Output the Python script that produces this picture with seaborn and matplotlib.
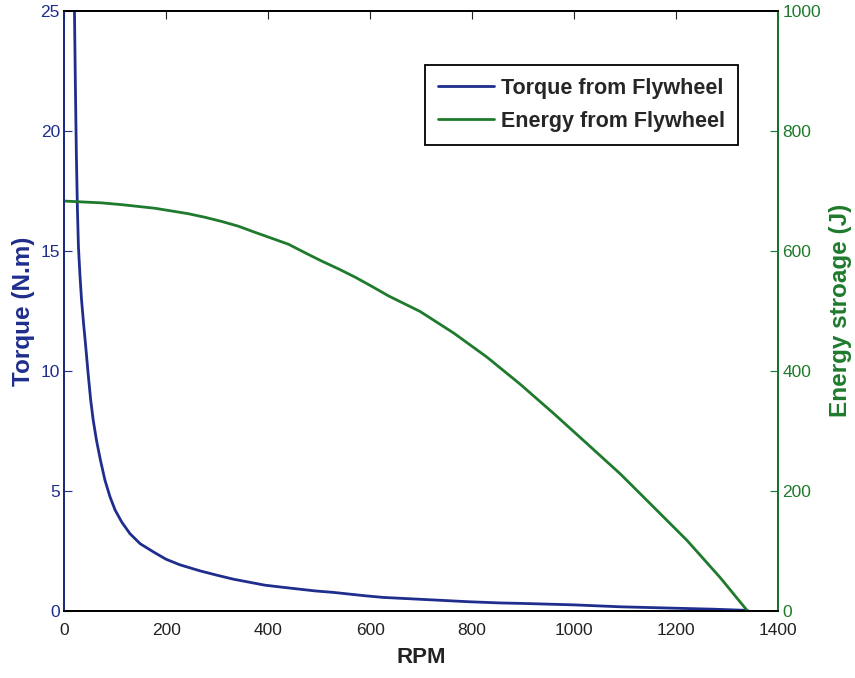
import pandas as pd
import seaborn as sns
import matplotlib.pyplot as plt
from matplotlib.lines import Line2D

# torque curve
rpm_torque = [20, 22, 24, 26, 28, 31, 34, 38, 42, 47, 52, 57, 63.5, 71, 80,
              90, 100, 113, 129, 149, 168, 178, 200, 227, 266, 299, 332, 394,
              430, 493, 528, 590, 626, 692, 794, 856, 900, 1000, 1091, 1200,
              1274, 1340]
torque = [25.5, 22.0, 19.0, 16.8, 15.2, 14.0, 13.0, 12.0, 11.1, 9.9, 8.8,
          7.95, 7.1, 6.3, 5.45, 4.75, 4.2, 3.7, 3.22, 2.8, 2.55, 2.42, 2.15,
          1.92, 1.67, 1.49, 1.32, 1.07, 0.98, 0.83, 0.77, 0.63, 0.56, 0.49,
          0.38, 0.33, 0.31, 0.25, 0.17, 0.11, 0.07, 0.02]

# energy curve
rpm_energy = [0, 73, 113, 178, 243, 276, 309, 342, 374, 407, 440, 472, 505,
              538, 571, 603, 636, 698, 764, 829, 894, 960, 1025, 1091, 1156,
              1222, 1287, 1340]
energy = [683, 680, 677, 671, 662, 656, 649, 641, 631, 621, 611, 597, 583,
          570, 556, 541, 525, 499, 463, 423, 378, 329, 279, 228, 173, 117,
          55, 0]

blue = '#1f2d8c'
green = '#1e7a2c'

sns.set_style("white")
plt.rcParams['font.family'] = ['Liberation Sans', 'DejaVu Sans']

df_t = pd.DataFrame({'RPM': rpm_torque, 'Torque': torque})
df_e = pd.DataFrame({'RPM': rpm_energy, 'Energy': energy})

fig = plt.figure(figsize=(8.55, 6.78), dpi=100)
ax = fig.add_axes([0.075, 0.099, 0.835, 0.885])
ax2 = ax.twinx()

sns.lineplot(data=df_t, x='RPM', y='Torque', ax=ax, color=blue, lw=2)
sns.lineplot(data=df_e, x='RPM', y='Energy', ax=ax2, color=green, lw=2)

ax.set_xlim(0, 1400)
ax.set_ylim(0, 25)
ax2.set_ylim(0, 1000)
ax.set_xticks(range(0, 1401, 200))
ax.set_yticks(range(0, 26, 5))
ax2.set_yticks(range(0, 1001, 200))

tick_font = {'size': 12.5}
ax.set_xticklabels([str(v) for v in range(0, 1401, 200)], fontdict=tick_font)
ax.set_yticklabels([str(v) for v in range(0, 26, 5)], fontdict=tick_font, color=blue)
ax2.set_yticklabels([str(v) for v in range(0, 1001, 200)], fontdict=tick_font, color=green)

ax.tick_params(axis='x', direction='in', length=6, top=True, pad=9, colors='#222222')
ax.tick_params(axis='y', direction='in', length=6, colors=blue, pad=3)
ax2.tick_params(axis='y', direction='in', length=6, colors=green, pad=3)

for a in (ax, ax2):
    for s in a.spines.values():
        s.set_visible(True)
        s.set_linewidth(1.3)
        s.set_color('black')
ax2.spines['left'].set_color(blue)
ax2.spines['right'].set_color(green)

ax.set_xlabel('RPM', fontsize=16, fontweight='bold', labelpad=6, color='#222222')
ax.set_ylabel('Torque (N.m)', fontsize=17.5, fontweight='bold', color=blue, labelpad=4)
ax2.set_ylabel('Energy stroage (J)', fontsize=17.5, fontweight='bold', color=green, labelpad=6)

handles = [Line2D([], [], color=blue, lw=2), Line2D([], [], color=green, lw=2)]
leg = ax2.legend(handles, ['Torque from Flywheel', 'Energy from Flywheel'],
                 loc='upper right', bbox_to_anchor=(0.944, 0.91), borderaxespad=0,
                 fancybox=False, framealpha=1, edgecolor='black',
                 prop={'weight': 'bold', 'size': 15.5}, handlelength=2.6,
                 handletextpad=0.35, borderpad=0.6, labelspacing=0.55)
leg.get_frame().set_linewidth(1.3)

fig.savefig('out.png', dpi=100)
